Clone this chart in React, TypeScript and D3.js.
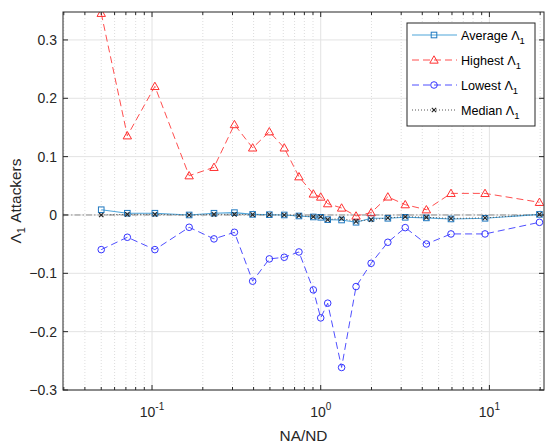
import React from "react";
import * as d3 from "d3";

// NA/ND ratios where the attack scenarios were evaluated
const ratios = [0.05, 0.0714, 0.104, 0.166, 0.233, 0.308, 0.395, 0.496, 0.608, 0.743, 0.904, 1.0, 1.1, 1.33, 1.62, 1.99, 2.5, 3.17, 4.23, 5.92, 9.42, 19.8];

const averageVals = [0.009, 0.003, 0.003, 0.0, 0.003, 0.004, 0.001, 0.0005, 0.0, -0.0017, -0.0034, -0.004, -0.008, -0.0086, -0.0125, -0.0057, -0.0057, -0.004, -0.005, -0.0068, -0.0057, 0.001];
const highestVals = [0.3457, 0.1358, 0.2204, 0.0673, 0.0817, 0.155, 0.115, 0.1427, 0.115, 0.0656, 0.036, 0.0308, 0.0194, 0.012, -0.0017, 0.004, 0.031, 0.0177, 0.009, 0.037, 0.037, 0.0217];
const lowestVals = [-0.0594, -0.0382, -0.0594, -0.0211, -0.041, -0.0297, -0.1135, -0.0753, -0.0725, -0.0634, -0.1284, -0.1764, -0.1512, -0.2614, -0.1227, -0.0828, -0.0468, -0.0217, -0.0497, -0.0325, -0.0325, -0.0126];
const medianVals = [0.0, 0.001, 0.001, 0.0, 0.001, 0.001, 0.0005, 0.0005, 0.0, -0.001, -0.003, -0.003, -0.008, -0.006, -0.011, -0.008, -0.005, -0.003, -0.004, -0.006, -0.005, 0.001];

const yTicks = [-0.3, -0.2, -0.1, 0, 0.1, 0.2, 0.3];
const xDecades = [0.1, 1, 10];
const xDecadeExp = ["-1", "0", "1"];
const seriesNames = ["Average", "Highest", "Lowest", "Median"];

const W = 545;
const H = 443;
const L = 63, R = 544, T = 12, B = 390;
const font = "'Liberation Sans', Arial, Helvetica, sans-serif";
const axisColor = "#262626";
const tickSize = 14;
const labelSize = 15.4;
const legendSize = 12.6;

type Marker = "square" | "triangle" | "circle" | "cross";

function MarkerShape({ kind, x, y, color }: { kind: Marker; x: number; y: number; color: string }) {
  if (kind === "square") {
    return <rect x={x - 2.8} y={y - 2.8} width={5.6} height={5.6} fill="none" stroke={color} strokeWidth={1} />;
  }
  if (kind === "triangle") {
    const s = 4.2;
    return <path d={`M${x},${y - s} L${x + s},${y + s * 0.75} L${x - s},${y + s * 0.75} Z`} fill="none" stroke={color} strokeWidth={1} />;
  }
  if (kind === "circle") {
    return <circle cx={x} cy={y} r={3.3} fill="none" stroke={color} strokeWidth={1} />;
  }
  const c = 2.2;
  return <path d={`M${x - c},${y - c} L${x + c},${y + c} M${x - c},${y + c} L${x + c},${y - c}`} stroke={color} strokeWidth={1.1} />;
}

export default function App() {
  const x = d3.scaleLog().domain([0.02967, 21.07]).range([L, R]);
  const y = d3.scaleLinear().domain([-0.3, 0.3479]).range([B, T]);

  const line = d3
    .line<number>()
    .x((_, i) => x(ratios[i]))
    .y((d) => y(d));

  const series = [
    { name: seriesNames[0], vals: averageVals, line: "#4fa5da", mark: "#1f78c0", dash: "", width: 1.1, marker: "square" as Marker },
    { name: seriesNames[1], vals: highestVals, line: "#ff4f4f", mark: "#ff3030", dash: "7,4", width: 1, marker: "triangle" as Marker },
    { name: seriesNames[2], vals: lowestVals, line: "#4f4fff", mark: "#3535ff", dash: "7,4", width: 1, marker: "circle" as Marker },
    { name: seriesNames[3], vals: medianVals, line: "#555555", mark: "#222222", dash: "1,2", width: 1, marker: "cross" as Marker },
  ];

  // Minor log grid positions
  const minor: number[] = [];
  for (const dec of [0.01, 0.1, 1, 10]) {
    for (let k = 2; k <= 9; k++) {
      const v = dec * k;
      if (v > x.domain()[0] && v < x.domain()[1]) minor.push(v);
    }
  }

  const legX = 407, legY = 23, legW = 128, legH = 103;

  return (
    <svg width={W} height={H} style={{ position: "absolute", left: 0, top: 0, background: "#fff" }} fontFamily={font}>
      <rect x={0} y={0} width={W} height={H} fill="#fff" />
      <defs>
        <clipPath id="plotArea">
          <rect x={L} y={T} width={R - L} height={B - T} />
        </clipPath>
      </defs>

      {/* grid */}
      {minor.map((v) => (
        <line key={"mg" + v} x1={x(v)} x2={x(v)} y1={T} y2={B} stroke="#d4d4d4" strokeWidth={0.8} strokeDasharray="1,2" />
      ))}
      {xDecades.map((v) => (
        <line key={"xg" + v} x1={x(v)} x2={x(v)} y1={T} y2={B} stroke="#e3e3e3" strokeWidth={1} />
      ))}
      {yTicks.map((v) => (
        <line key={"yg" + v} x1={L} x2={R} y1={y(v)} y2={y(v)} stroke="#e3e3e3" strokeWidth={1} />
      ))}

      {/* zero reference */}
      <line x1={L} x2={R} y1={y(0)} y2={y(0)} stroke="#8c8c8c" strokeWidth={1} strokeDasharray="6,2,1.5,2" />

      {/* series */}
      <g clipPath="url(#plotArea)">
        {series.map((s) => (
          <g key={s.name}>
            <path d={line(s.vals) || ""} fill="none" stroke={s.line} strokeWidth={s.width} strokeDasharray={s.dash || undefined} />
            {s.vals.map((v, i) => (
              <MarkerShape key={i} kind={s.marker} x={x(ratios[i])} y={y(v)} color={s.mark} />
            ))}
          </g>
        ))}
      </g>

      {/* axes box */}
      <rect x={L} y={T} width={R - L} height={B - T} fill="none" stroke={axisColor} strokeWidth={1} />

      {/* y ticks */}
      {yTicks.map((v) => (
        <g key={"yt" + v}>
          <line x1={L} x2={L + 5} y1={y(v)} y2={y(v)} stroke={axisColor} />
          <line x1={R} x2={R - 5} y1={y(v)} y2={y(v)} stroke={axisColor} />
          <text x={57} y={y(v) + 5} textAnchor="end" fontSize={tickSize} fill={axisColor}>
            {v === 0 ? "0" : d3.format(".1f")(v)}
          </text>
        </g>
      ))}

      {/* x ticks */}
      {minor.map((v) => (
        <g key={"xm" + v}>
          <line x1={x(v)} x2={x(v)} y1={B} y2={B - 3} stroke={axisColor} />
          <line x1={x(v)} x2={x(v)} y1={T} y2={T + 3} stroke={axisColor} />
        </g>
      ))}
      {xDecades.map((v, i) => (
        <g key={"xt" + v}>
          <line x1={x(v)} x2={x(v)} y1={B} y2={B - 5} stroke={axisColor} />
          <line x1={x(v)} x2={x(v)} y1={T} y2={T + 5} stroke={axisColor} />
          <text x={x(v)} y={416.5} textAnchor="middle" fontSize={tickSize} fill={axisColor}>
            10
            <tspan dy={-6.5} fontSize={10}>{xDecadeExp[i]}</tspan>
          </text>
        </g>
      ))}

      {/* axis labels */}
      <text x={(L + R) / 2} y={440.5} textAnchor="middle" fontSize={labelSize} fill={axisColor}>
        NA/ND
      </text>
      <text transform={`translate(20.5,${(T + B) / 2}) rotate(-90)`} textAnchor="middle" fontSize={labelSize} fill={axisColor}>
        Λ<tspan dy={4} fontSize={11}>1</tspan>
        <tspan dy={-4}> Attackers</tspan>
      </text>

      {/* legend */}
      <rect x={legX} y={legY} width={legW} height={legH} fill="#fff" stroke={axisColor} strokeWidth={1} />
      {series.map((s, i) => {
        const ly = 35 + i * 25;
        return (
          <g key={"lg" + s.name}>
            <line x1={412} x2={457} y1={ly} y2={ly} stroke={s.line} strokeWidth={s.width} strokeDasharray={s.dash || undefined} />
            <MarkerShape kind={s.marker} x={434} y={ly} color={s.mark} />
            <text x={461} y={ly + 4.5} fontSize={legendSize} fill="#000">
              {s.name} Λ<tspan dy={4.5} fontSize={9.5}>1</tspan>
            </text>
          </g>
        );
      })}
    </svg>
  );
}
